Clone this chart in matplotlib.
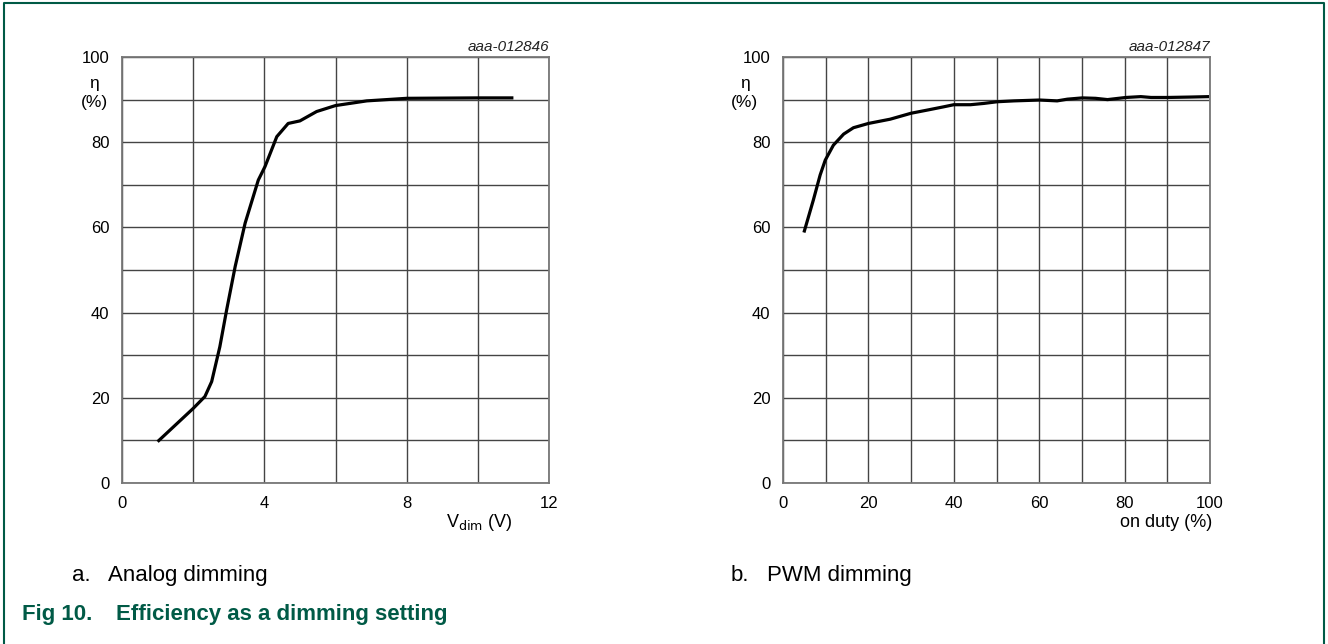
import numpy as np
import matplotlib.pyplot as plt
from matplotlib.lines import Line2D

plt.rcParams['font.family'] = ['Liberation Sans', 'DejaVu Sans']

# curva a: dimming analogico
vdim = [1.0, 2.0, 2.33, 2.52, 2.75, 2.94, 3.18, 3.46, 3.83, 4.02, 4.35, 4.67, 5.0,
        5.47, 6.0, 6.88, 8.0, 10.0, 11.0]
eta_a = [9.7, 17.5, 20.3, 23.8, 32.0, 40.6, 50.8, 61.0, 71.1, 74.3, 81.3, 84.4, 85.0,
         87.2, 88.6, 89.7, 90.3, 90.4, 90.4]

# curva b: dimming PWM
duty = [4.9, 7.1, 8.7, 9.9, 11.8, 14.2, 16.5, 20.0, 25.1, 30.0, 34.1, 37.6, 40.0, 43.9,
        47.0, 50.2, 54.1, 60.1, 64.2, 66.6, 70.1, 73.2, 76.0, 80.3, 83.8, 86.2, 90.1,
        95.5, 99.8]
eta_b = [58.8, 66.4, 72.3, 75.8, 79.3, 81.9, 83.4, 84.4, 85.4, 86.8, 87.6, 88.3, 88.8,
         88.8, 89.1, 89.5, 89.7, 89.9, 89.7, 90.1, 90.4, 90.3, 90.0, 90.5, 90.7, 90.5,
         90.5, 90.6, 90.7]

W, H = 1328, 644
fig = plt.figure(figsize=(W/100, H/100), dpi=100)
verde = '#005a46'

def panel(x0, xs, ys, xmax, xmaj, xmin, code, xlabel, xl_x, eta_x):
    ax = fig.add_axes([x0/W, (H-483)/H, 427/W, 426/H])
    ax.plot(xs, ys, color='black', lw=2.3, solid_capstyle='butt')
    ax.set_xlim(0, xmax)
    ax.set_ylim(0, 100)
    ax.set_xticks(np.arange(0, xmax+0.01, xmaj))
    ax.set_xticks(np.arange(0, xmax+0.01, xmin), minor=True)
    ax.set_yticks(np.arange(0, 101, 20))
    ax.set_yticks(np.arange(0, 101, 10), minor=True)
    ax.grid(True, which='both', color='#444444', lw=1.0)
    ax.tick_params(which='both', length=0, labelsize=12, pad=9)
    for s in ax.spines.values():
        s.set_color('#777777')
        s.set_linewidth(1.3)
    ax.text(1.0, 1.023, code, transform=ax.transAxes, ha='right', va='center',
            fontsize=11, style='italic', color='#222222')
    ax.text(eta_x, 0.937, 'η', transform=ax.transAxes, ha='center', va='center', fontsize=12.5)
    ax.text(eta_x, 0.894, '(%)', transform=ax.transAxes, ha='center', va='center', fontsize=12.5)
    ax.text(xl_x, -0.092, xlabel, transform=ax.transAxes, ha='right', va='center', fontsize=13)
    return ax

panel(122, vdim, eta_a, 12, 4, 2, 'aaa-012846', r'V$_{\mathrm{dim}}$ (V)', 0.915, -0.065)
panel(783, duty, eta_b, 100, 20, 10, 'aaa-012847', 'on duty (%)', 1.005, -0.090)

# leyendas de las figuras (alineadas por linea base)
yb1 = 1 - 581/H
yb2 = 1 - 620/H
fig.text(72/W, yb1, 'a.', fontsize=16, va='baseline')
fig.text(108/W, yb1, 'Analog dimming', fontsize=16, va='baseline')
fig.text(731/W, yb1, 'b.', fontsize=16, va='baseline')
fig.text(767/W, yb1, 'PWM dimming', fontsize=16, va='baseline')
fig.text(22/W, yb2, 'Fig 10.', fontsize=16, fontweight='bold', color=verde, va='baseline')
fig.text(116/W, yb2, 'Efficiency as a dimming setting', fontsize=16,
         fontweight='bold', color=verde, va='baseline')

# borde verde
fig.add_artist(Line2D([4/W, 4/W, 1324/W, 1324/W], [0, 1-3/H, 1-3/H, 0], color=verde, lw=1.5))

fig.savefig('out.png', dpi=100)
